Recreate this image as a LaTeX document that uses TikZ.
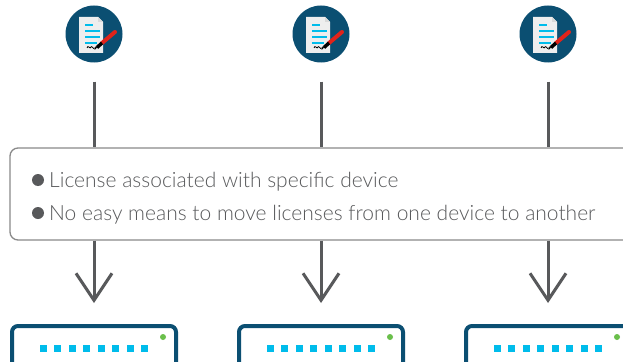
\documentclass[tikz,border=0pt]{standalone}
\usepackage{fontspec}
\IfFontExistsTF{Lato Light}{\setmainfont{Lato Light}}{\setmainfont{Lato}}
\usetikzlibrary{arrows.meta,calc}
\definecolor{cdark}{HTML}{0B4F72}
\definecolor{cgray}{HTML}{58595B}
\definecolor{cbox}{HTML}{8A8A8A}
\definecolor{ccyan}{HTML}{00BCEB}
\definecolor{cgreen}{HTML}{6ABF4B}
\definecolor{cred}{HTML}{E2231A}
\definecolor{cpage}{HTML}{EEEEEE}
\tikzset{
  iconcirc/.style={circle, fill=cdark, minimum size=57pt, inner sep=0pt},
  devbox/.style={draw=cdark, line width=4pt, rounded corners=6pt, minimum width=164pt, minimum height=44pt, inner sep=0pt, fill=white},
  textbox/.style={draw=cbox, line width=1.3pt, rounded corners=8pt, fill=white, minimum width=630pt, minimum height=92pt, inner sep=0pt},
  link/.style={draw=cgray, line width=3pt},
  arr/.style={draw=cgray, line width=3pt, -{Straight Barb[length=27pt,width=36pt,line width=3pt]}},
  bul/.style={circle, fill=cgray, minimum size=12pt, inner sep=0pt},
  txt/.style={text=cgray, font=\fontsize{21}{25}\selectfont, anchor=base west, inner sep=0pt},
  doc/.pic={
    \fill[cpage] (-15,-17) -- (4,-17) -- (9,-12) -- (9,19) -- (-15,19) -- cycle;
    \fill[black!15] (4,-17) -- (4,-12) -- (9,-12) -- cycle;
    \draw[ccyan, line width=2pt] (-9,-9) -- (-1,-9);
    \draw[ccyan, line width=2pt] (-9,-2.5) -- (6,-2.5);
    \draw[ccyan, line width=2pt] (-9,3.5) -- (6,3.5);
    \draw[ccyan, line width=2pt] (-9,9) -- (3,9);
    \draw[black, line width=0.8pt] (-7,14) .. controls (-6,10) and (-4,16) .. (-3,13) .. controls (-2,11) and (-1,16) .. (1,14);
    \draw[cred, line width=4pt, line cap=round] (21,-2) -- (8,9);
    \draw[black, line width=3.5pt] (8,9) -- (3,13.5);
    \fill[black] (3,13.5) -- (0.5,16) -- (1.5,12.5) -- cycle;
  }
}
\begin{document}
\begin{tikzpicture}[x=1pt, y=-1pt]
\clip (0,0) rectangle (623,361);
\useasboundingbox (0,0) rectangle (623,361);
\fill[white] (0,0) rectangle (623,361);
% icons
\foreach \n/\x in {1/94,2/321,3/548}{
  \node[iconcirc] (i\n) at (\x,34) {};
  \pic at (\x,34) {doc};
}
% devices
\foreach \n/\x in {1/94,2/321,3/548}{
  \node[devbox] (d\n) at (\x,348) {};
  \foreach \k in {0,...,7}{
    \fill[ccyan] ($(\x,348.5)+(-54+\k*14.43,-3.5)$) rectangle ++(7,7);
  }
  \fill[cgreen] (\x+69,337) circle (3pt);
}
% text box
\node[textbox] (b) at (325,194) {};
% links
\foreach \n in {1,2,3}{
  \draw[link] ([yshift=-19pt]i\n.south) -- (b.north -| i\n);
  \draw[arr] (b.south -| i\n) -- ([yshift=21pt]d\n.north);
}
\node[bul] (p1) at (38,180) {};
\node[bul] (p2) at (38,213) {};
\node[txt] (t1) at (49,187) {License associated with specific device};
\node[txt] (t2) at (49,220) {No easy means to move licenses from one device to another};
\end{tikzpicture}
\end{document}
